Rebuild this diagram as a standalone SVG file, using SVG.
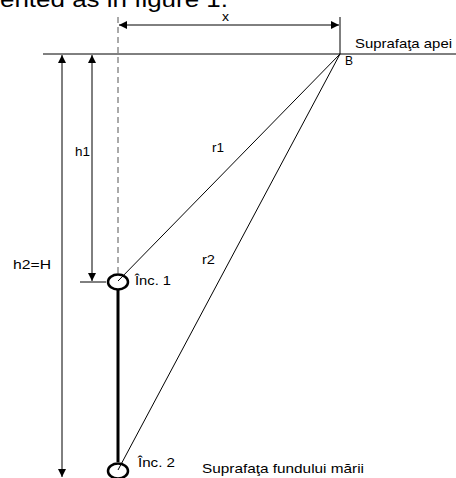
<svg xmlns="http://www.w3.org/2000/svg" width="456" height="478" viewBox="0 0 456 478">
<defs>
<marker id="ah" viewBox="0 0 10 10" refX="10" refY="5" markerWidth="10" markerHeight="8" markerUnits="userSpaceOnUse" orient="auto-start-reverse">
<path d="M0,0 L10,5 L0,10 z" fill="#000"/>
</marker>
<style>
text{font-family:"Liberation Sans",Arial,sans-serif;font-size:13px;fill:#000}
.thin{stroke:#000;stroke-width:1;fill:none}
.dim{stroke:#000;stroke-width:1;fill:none;marker-start:url(#ah);marker-end:url(#ah)}
.ring{stroke:#000;stroke-width:2.5;fill:none}
</style>
</defs>
<rect width="456" height="478" fill="#fff"/>
<text x="0" y="7" style="font-size:22px" textLength="228" lengthAdjust="spacingAndGlyphs">ented as in figure 1.</text>
<g id="connectors">
<line class="thin" x1="43" y1="54" x2="456" y2="54"/>
<line class="thin" x1="340" y1="17" x2="340" y2="54"/>
<line class="thin" x1="118" y1="17" x2="118" y2="274" stroke-dasharray="6,4" style="stroke:#555"/>
<line class="dim" x1="119" y1="25" x2="339" y2="25"/>
<line class="dim" x1="62" y1="55" x2="62" y2="477"/>
<line class="dim" x1="92" y1="55" x2="92" y2="281"/>
<line class="thin" x1="80" y1="282" x2="106" y2="282"/>
<line class="thin" x1="340" y1="54" x2="118" y2="281"/>
<line class="thin" x1="340" y1="54" x2="118" y2="470"/>
<line stroke="#000" stroke-width="3" x1="118" y1="290" x2="118" y2="462"/>
</g>
<g id="inc1">
<ellipse class="ring" cx="118" cy="282" rx="10" ry="7.5"/>
<text x="135" y="285" textLength="36" lengthAdjust="spacingAndGlyphs">Înc. 1</text>
</g>
<g id="inc2">
<ellipse class="ring" cx="118" cy="471" rx="10" ry="7.5"/>
<text x="138" y="467" textLength="37" lengthAdjust="spacingAndGlyphs">Înc. 2</text>
</g>
<g id="labels">
<text x="222" y="21" textLength="7" lengthAdjust="spacingAndGlyphs">x</text>
<text x="355" y="48" textLength="97" lengthAdjust="spacingAndGlyphs">Suprafaţa apei</text>
<text x="345" y="65" textLength="8" lengthAdjust="spacingAndGlyphs">B</text>
<text x="75" y="156" textLength="15" lengthAdjust="spacingAndGlyphs">h1</text>
<text x="212" y="152" textLength="12" lengthAdjust="spacingAndGlyphs">r1</text>
<text x="202" y="264" textLength="13" lengthAdjust="spacingAndGlyphs">r2</text>
<text x="13" y="269" textLength="38" lengthAdjust="spacingAndGlyphs">h2=H</text>
<text x="202" y="473" textLength="162" lengthAdjust="spacingAndGlyphs">Suprafaţa fundului mării</text>
</g>
</svg>
